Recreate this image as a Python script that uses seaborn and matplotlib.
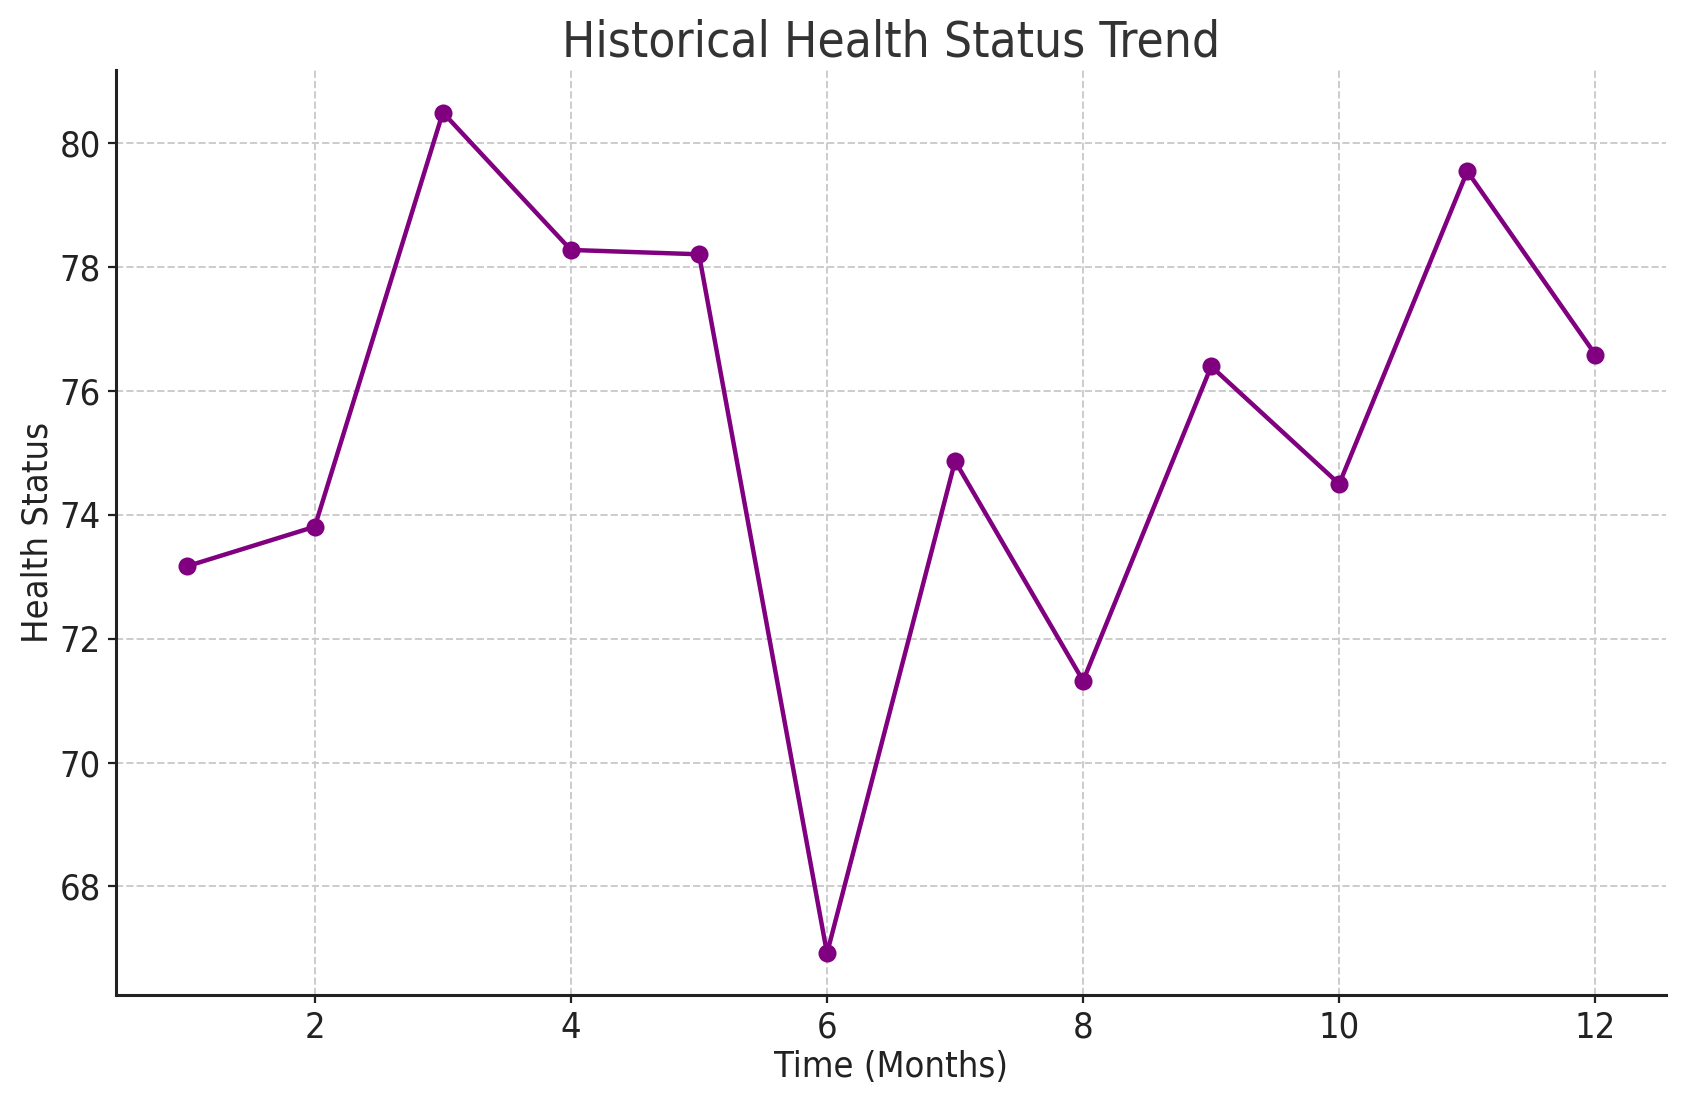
import seaborn as sns
import matplotlib.pyplot as plt
import pandas as pd

# 数据
months = [1, 2, 3, 4, 5, 6, 7, 8, 9, 10, 11, 12]
health = [73.17, 73.81, 80.50, 78.28, 78.21, 66.92, 74.87, 71.32, 76.40, 74.50, 79.55, 76.59]

TITLE = "Historical Health Status Trend"
XLABEL = "Time (Months)"
YLABEL = "Health Status"


def main():
    df = pd.DataFrame({"Month": months, "Health": health})

    sns.set_style("ticks")
    plt.rcParams['font.family'] = ['DejaVu Sans']
    plt.rcParams['font.stretch'] = 'condensed'

    fig = plt.figure(figsize=(8.43, 5.505), dpi=200)
    ax = fig.add_axes([0.069, 0.096, 0.919, 0.840])

    sns.lineplot(data=df, x="Month", y="Health", color="purple",
                 marker="o", markersize=6.5, markeredgewidth=0,
                 linewidth=1.6, ax=ax)

    ax.grid(True, linestyle="--", color="#cccccc", linewidth=0.7)
    ax.set_axisbelow(True)
    sns.despine(ax=ax)
    for s in ['left', 'bottom']:
        ax.spines[s].set_color('#222222')
        ax.spines[s].set_linewidth(1.1)

    ax.set_title(TITLE, fontsize=17.8, color="#333333", pad=5)
    ax.set_xlabel(XLABEL, fontsize=13, color="#222222", labelpad=2)
    ax.set_ylabel(YLABEL, fontsize=13, color="#222222", labelpad=2)
    ax.tick_params(labelsize=13, colors="#222222", length=3, pad=2.5)
    ax.set_xticks([2, 4, 6, 8, 10, 12])

    fig.savefig("out.png", dpi=200)


if __name__ == "__main__":
    main()
